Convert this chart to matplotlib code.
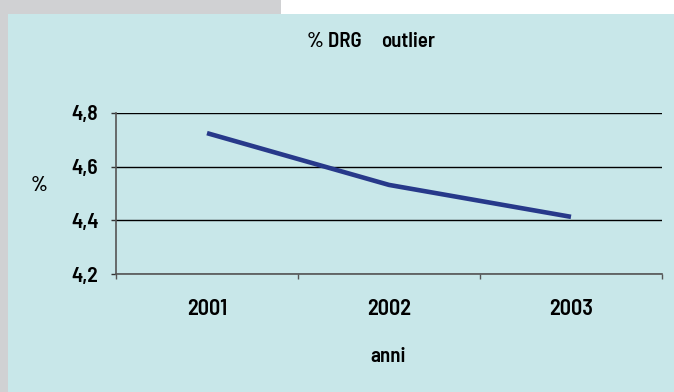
import matplotlib
matplotlib.use("Agg")
import matplotlib.pyplot as plt
from matplotlib.patches import Rectangle

years = ["2001", "2002", "2003"]
values = [4.725, 4.532, 4.413]
yticks = [4.2, 4.4, 4.6, 4.8]
ytick_labels = ["4,2", "4,4", "4,6", "4,8"]

plt.rcParams['font.family'] = ['Barlow Semi Condensed', 'DejaVu Sans']
plt.rcParams['font.weight'] = 600

W, H = 674, 392
fig = plt.figure(figsize=(W / 100, H / 100), dpi=100)
fig.patch.set_facecolor("white")
# backgrounds
fig.patches.append(Rectangle((0, 0), 281 / W, 1, transform=fig.transFigure,
                             facecolor="#D0D1D3", edgecolor="none", zorder=-3))
fig.patches.append(Rectangle((8 / W, 0), 1 - 8 / W, 1 - 14 / H, transform=fig.transFigure,
                             facecolor="#C8E7E9", edgecolor="none", zorder=-2))

ax = fig.add_axes([116 / W, 1 - 274 / H, (662 - 116) / W, (274 - 113) / H])
ax.set_facecolor("none")
x = list(range(len(years)))
ax.plot(x, values, color="#27398A", lw=3.3, solid_capstyle="butt", zorder=3)
ax.set_xlim(-0.5, len(years) - 0.5)
ax.set_ylim(4.2, 4.8)
ax.set_yticks(yticks)
ax.set_yticklabels(ytick_labels)
ax.set_xticks(x)
ax.set_xticklabels(years)
ax.set_xticks([i - 0.5 for i in range(len(years) + 1)], minor=True)
ax.tick_params(axis="x", which="major", length=0, pad=18, labelsize=16)
ax.tick_params(axis="x", which="minor", length=3.6, width=1, color="#555555", direction="out")
ax.tick_params(axis="y", length=3.6, width=1, color="#333333", pad=9, labelsize=15.5)
for t in yticks:
    ax.axhline(t, color="black", lw=1.0, zorder=1)
for s in ["top", "right"]:
    ax.spines[s].set_visible(False)
ax.spines["left"].set_color("#555555")
ax.spines["bottom"].set_color("#555555")
ax.spines["left"].set_linewidth(1.2)
ax.spines["bottom"].set_linewidth(1.2)

fig.text(307 / W, 1 - 47 / H, "% DRG", ha="left", va="baseline", fontsize=15)
fig.text(381 / W, 1 - 47 / H, "outlier", ha="left", va="baseline", fontsize=15)
fig.text(38.5 / W, 1 - 191 / H, "%", ha="center", va="baseline", fontsize=15)
fig.text(388 / W, 1 - 362 / H, "anni", ha="center", va="baseline", fontsize=15)

fig.savefig("out.png", dpi=100)
